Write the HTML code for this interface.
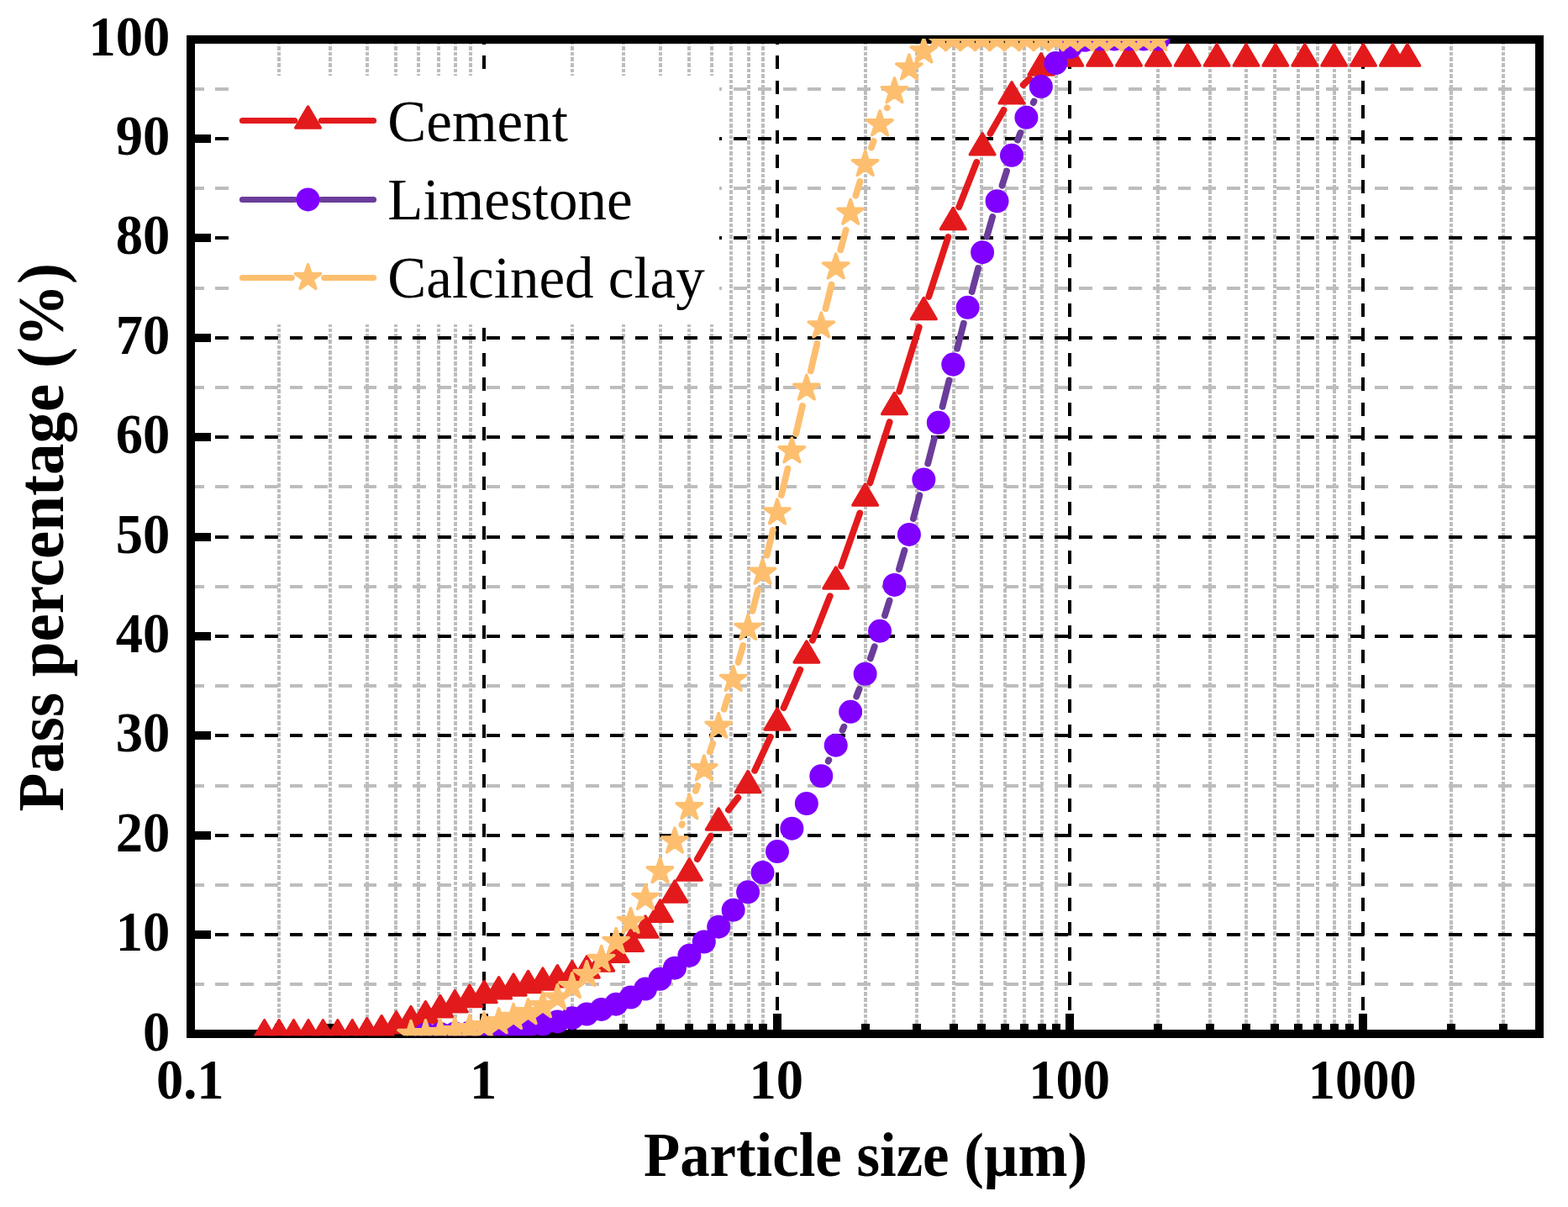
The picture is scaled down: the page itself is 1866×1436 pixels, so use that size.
<!DOCTYPE html>
<html lang="en"><head><meta charset="utf-8"><title>Particle size distribution</title>
<style>html,body{margin:0;padding:0;background:#fff}body{width:1866px;height:1436px;overflow:hidden}svg{display:block}text{font-family:"Liberation Serif","Times New Roman",serif;fill:#000}.b{font-weight:bold}.lg{font-size:69px}</style></head><body>
<svg width="1866" height="1436" viewBox="0 0 1866 1436" role="img" aria-label="Particle size distribution of cement, limestone and calcined clay">
<rect width="1866" height="1436" fill="#fff"/>
<defs><clipPath id="cp"><rect x="226" y="46" width="1607" height="1186.2"/></clipPath></defs>
<g shape-rendering="crispEdges">
<path d="M332 1231.1V46.6M393 1231.1V46.6M437 1231.1V46.6M471 1231.1V46.6M498 1231.1V46.6M522 1231.1V46.6M542 1231.1V46.6M560 1231.1V46.6M681 1231.1V46.6M742 1231.1V46.6M786 1231.1V46.6M820 1231.1V46.6M847 1231.1V46.6M870 1231.1V46.6M891 1231.1V46.6M908 1231.1V46.6M1030 1231.1V46.6M1091 1231.1V46.6M1135 1231.1V46.6M1168 1231.1V46.6M1196 1231.1V46.6M1219 1231.1V46.6M1240 1231.1V46.6M1257 1231.1V46.6M1378 1231.1V46.6M1440 1231.1V46.6M1483 1231.1V46.6M1517 1231.1V46.6M1545 1231.1V46.6M1568 1231.1V46.6M1588 1231.1V46.6M1606 1231.1V46.6M1727 1231.1V46.6M1789 1231.1V46.6" fill="none" stroke="#bdbdbd" stroke-width="4" stroke-dasharray="4.6 1.98"/>
<path d="M227.1 1171H1832.1M227.1 1053H1832.1M227.1 935H1832.1M227.1 816H1832.1M227.1 698H1832.1M227.1 579H1832.1M227.1 461H1832.1M227.1 343H1832.1M227.1 224H1832.1M227.1 106H1832.1" fill="none" stroke="#bdbdbd" stroke-width="4.0" stroke-dasharray="15.8 13.56"/>
<path d="M227.1 1112H1832.1M227.1 994H1832.1M227.1 875H1832.1M227.1 757H1832.1M227.1 639H1832.1M227.1 520H1832.1M227.1 402H1832.1M227.1 283H1832.1M227.1 165H1832.1" fill="none" stroke="#000" stroke-width="4.0" stroke-dasharray="15.8 13.56"/>
<path d="M576 1231.2V46.6M925 1231.2V46.6M1273 1231.2V46.6M1622 1231.2V46.6" fill="none" stroke="#000" stroke-width="4.0" stroke-dasharray="16 13.46"/>
<rect x="272.6" y="89.8" width="583.5" height="295.7" fill="#fff"/>
<rect x="227" y="47" width="1605" height="1183" fill="none" stroke="#000" stroke-width="10"/>
<path d="M227 1112H251.3M227 994H251.3M227 875H251.3M227 757H251.3M227 639H251.3M227 520H251.3M227 402H251.3M227 283H251.3M227 165H251.3M576 1230V1206M925 1230V1206M1273 1230V1206M1622 1230V1206M332 1230V1218M393 1230V1218M437 1230V1218M471 1230V1218M498 1230V1218M522 1230V1218M542 1230V1218M560 1230V1218M681 1230V1218M742 1230V1218M786 1230V1218M820 1230V1218M847 1230V1218M870 1230V1218M891 1230V1218M908 1230V1218M1030 1230V1218M1091 1230V1218M1135 1230V1218M1168 1230V1218M1196 1230V1218M1219 1230V1218M1240 1230V1218M1257 1230V1218M1378 1230V1218M1440 1230V1218M1483 1230V1218M1517 1230V1218M1545 1230V1218M1568 1230V1218M1588 1230V1218M1606 1230V1218M1727 1230V1218M1789 1230V1218" fill="none" stroke="#000" stroke-width="10"/>
</g>
<g clip-path="url(#cp)">
<path d="M829.89 1022.07L845.67 994.93M866.94 963.55L878.38 948.95M898.15 916.79L916.92 876.71M932.57 842.08L952.26 796.92M966.85 761.84L987.72 709.16M1001.04 673.58L1023.29 610.42M1035.41 574.41L1058.66 502.09M1070.08 465.85L1093.75 389.15M1105.24 352.94L1128.34 282.06M1141.18 246.32L1162.15 192.98M1178.54 158.81L1194.54 130.84M1217.63 101.13L1225.21 93.79" fill="none" stroke="#e31a1c" stroke-width="7.8" stroke-linecap="round"/><path d="M314.65 1213.78L329.5 1238.98H299.8ZM332.09 1213.78L346.94 1238.98H317.24ZM349.52 1213.78L364.37 1238.98H334.67ZM366.96 1213.78L381.81 1238.98H352.11ZM384.4 1213.78L399.25 1238.98H369.55ZM401.84 1213.78L416.69 1238.98H386.99ZM419.28 1213.78L434.13 1238.98H404.43ZM436.71 1211.68L451.56 1236.88H421.86ZM454.15 1208.68L469 1233.88H439.3ZM471.59 1203.73L486.44 1228.93H456.74ZM489.03 1197.58L503.88 1222.78H474.18ZM506.46 1191.68L521.31 1216.88H491.61ZM523.9 1184.68L538.75 1209.88H509.05ZM541.34 1178.68L556.19 1203.88H526.49ZM558.78 1172.28L573.63 1197.48H543.93ZM576.22 1167.38L591.07 1192.58H561.37ZM593.65 1162.68L608.5 1187.88H578.8ZM611.09 1158.98L625.94 1184.18H596.24ZM628.53 1155.38L643.38 1180.58H613.68ZM645.97 1151.98L660.82 1177.18H631.12ZM663.41 1148.68L678.26 1173.88H648.56ZM680.84 1143.78L695.69 1168.98H665.99ZM698.28 1137.78L713.13 1162.98H683.43ZM715.72 1129.98L730.57 1155.18H700.87ZM733.16 1119.08L748.01 1144.28H718.31ZM750.59 1106.08L765.44 1131.28H735.74ZM768.03 1089.88L782.88 1115.08H753.18ZM785.47 1071.23L800.32 1096.43H770.62ZM802.91 1047.98L817.76 1073.18H788.06ZM820.35 1021.88L835.2 1047.08H805.5ZM855.22 961.88L870.07 987.08H840.37ZM890.1 917.38L904.95 942.58H875.25ZM924.97 842.88L939.82 868.08H910.12ZM959.85 762.88L974.7 788.08H945ZM994.72 674.88L1009.57 700.08H979.87ZM1029.6 575.88L1044.45 601.08H1014.75ZM1064.48 467.38L1079.33 492.58H1049.63ZM1099.35 354.38L1114.2 379.58H1084.5ZM1134.23 247.38L1149.08 272.58H1119.38ZM1169.1 158.68L1183.95 183.88H1154.25ZM1203.98 97.73L1218.83 122.93H1189.13ZM1238.85 63.95L1253.7 89.15H1224ZM1273.73 52.84L1288.58 78.04H1258.88ZM1308.61 52.84L1323.46 78.04H1293.76ZM1343.48 52.84L1358.33 78.04H1328.63ZM1378.36 52.84L1393.21 78.04H1363.51ZM1413.23 52.84L1428.08 78.04H1398.38ZM1448.11 52.84L1462.96 78.04H1433.26ZM1482.98 52.84L1497.83 78.04H1468.13ZM1517.86 52.84L1532.71 78.04H1503.01ZM1552.74 52.84L1567.59 78.04H1537.89ZM1587.61 52.84L1602.46 78.04H1572.76ZM1622.49 52.84L1637.34 78.04H1607.64ZM1657.36 52.84L1672.21 78.04H1642.51ZM1674.8 52.84L1689.65 78.04H1659.95Z" fill="#e31a1c" stroke="#e31a1c" stroke-width="3.3" stroke-linejoin="round"/>
<path d="M985.68 905.63L986.33 904.28M1002.54 868.82L1004.35 864.69M1019.2 828.64L1022.56 819.95M1035.91 783.31L1040.73 769.24M1052.94 732.2L1058.57 714.5M1069.92 677.19L1076.47 654.67M1086.93 617.1L1094.34 589.27M1104.22 551.54L1111.92 521.66M1121.55 483.87L1129.46 452.5M1139.09 414.7L1146.81 384.7M1156.67 346.97L1164.1 319.03M1174.47 281.43L1181.17 258.02M1192.49 220.7L1198.03 203.44M1211.02 166.68L1214.38 157.99M1229.77 122.19L1230.5 120.64" fill="none" stroke="#6a3d9a" stroke-width="7.8" stroke-linecap="round"/><path d="M492.46 1230.4a14 14 0 1 0 28 0a14 14 0 1 0 -28 0ZM509.9 1229.9a14 14 0 1 0 28 0a14 14 0 1 0 -28 0ZM527.34 1229.43a14 14 0 1 0 28 0a14 14 0 1 0 -28 0ZM544.78 1228.48a14 14 0 1 0 28 0a14 14 0 1 0 -28 0ZM562.22 1227.06a14 14 0 1 0 28 0a14 14 0 1 0 -28 0ZM579.65 1225.17a14 14 0 1 0 28 0a14 14 0 1 0 -28 0ZM597.09 1223.16a14 14 0 1 0 28 0a14 14 0 1 0 -28 0ZM614.53 1220.91a14 14 0 1 0 28 0a14 14 0 1 0 -28 0ZM631.97 1218.66a14 14 0 1 0 28 0a14 14 0 1 0 -28 0ZM649.41 1215.47a14 14 0 1 0 28 0a14 14 0 1 0 -28 0ZM666.84 1211.21a14 14 0 1 0 28 0a14 14 0 1 0 -28 0ZM684.28 1206.48a14 14 0 1 0 28 0a14 14 0 1 0 -28 0ZM701.72 1200.92a14 14 0 1 0 28 0a14 14 0 1 0 -28 0ZM719.16 1194.66a14 14 0 1 0 28 0a14 14 0 1 0 -28 0ZM736.59 1186.61a14 14 0 1 0 28 0a14 14 0 1 0 -28 0ZM754.03 1176.56a14 14 0 1 0 28 0a14 14 0 1 0 -28 0ZM771.47 1164.85a14 14 0 1 0 28 0a14 14 0 1 0 -28 0ZM788.91 1151.72a14 14 0 1 0 28 0a14 14 0 1 0 -28 0ZM806.35 1136.82a14 14 0 1 0 28 0a14 14 0 1 0 -28 0ZM823.78 1120.5a14 14 0 1 0 28 0a14 14 0 1 0 -28 0ZM841.22 1102.64a14 14 0 1 0 28 0a14 14 0 1 0 -28 0ZM858.66 1082.65a14 14 0 1 0 28 0a14 14 0 1 0 -28 0ZM876.1 1061.37a14 14 0 1 0 28 0a14 14 0 1 0 -28 0ZM893.54 1038.07a14 14 0 1 0 28 0a14 14 0 1 0 -28 0ZM910.97 1013.11a14 14 0 1 0 28 0a14 14 0 1 0 -28 0ZM928.41 985.67a14 14 0 1 0 28 0a14 14 0 1 0 -28 0ZM945.85 955.99a14 14 0 1 0 28 0a14 14 0 1 0 -28 0ZM963.29 923.23a14 14 0 1 0 28 0a14 14 0 1 0 -28 0ZM980.72 886.68a14 14 0 1 0 28 0a14 14 0 1 0 -28 0ZM998.16 846.82a14 14 0 1 0 28 0a14 14 0 1 0 -28 0ZM1015.6 801.76a14 14 0 1 0 28 0a14 14 0 1 0 -28 0ZM1033.04 750.79a14 14 0 1 0 28 0a14 14 0 1 0 -28 0ZM1050.48 695.91a14 14 0 1 0 28 0a14 14 0 1 0 -28 0ZM1067.91 635.95a14 14 0 1 0 28 0a14 14 0 1 0 -28 0ZM1085.35 570.43a14 14 0 1 0 28 0a14 14 0 1 0 -28 0ZM1102.79 502.78a14 14 0 1 0 28 0a14 14 0 1 0 -28 0ZM1120.23 433.59a14 14 0 1 0 28 0a14 14 0 1 0 -28 0ZM1137.66 365.82a14 14 0 1 0 28 0a14 14 0 1 0 -28 0ZM1155.1 300.18a14 14 0 1 0 28 0a14 14 0 1 0 -28 0ZM1172.54 239.27a14 14 0 1 0 28 0a14 14 0 1 0 -28 0ZM1189.98 184.87a14 14 0 1 0 28 0a14 14 0 1 0 -28 0ZM1207.42 139.81a14 14 0 1 0 28 0a14 14 0 1 0 -28 0ZM1224.85 103.02a14 14 0 1 0 28 0a14 14 0 1 0 -28 0ZM1242.29 75.11a14 14 0 1 0 28 0a14 14 0 1 0 -28 0ZM1259.73 56.2a14 14 0 1 0 28 0a14 14 0 1 0 -28 0ZM1277.17 47.8a14 14 0 1 0 28 0a14 14 0 1 0 -28 0ZM1294.61 46.6a14 14 0 1 0 28 0a14 14 0 1 0 -28 0ZM1312.04 46.6a14 14 0 1 0 28 0a14 14 0 1 0 -28 0ZM1329.48 46.6a14 14 0 1 0 28 0a14 14 0 1 0 -28 0ZM1346.92 46.6a14 14 0 1 0 28 0a14 14 0 1 0 -28 0ZM1364.36 46.6a14 14 0 1 0 28 0a14 14 0 1 0 -28 0Z" fill="#7f00ff"/>
<path d="M811.42 981.37L811.83 980.43M827.93 940.79L830.2 934.81M844.77 894.57L848.24 884.53M861.6 843.87L866.28 828.93M878.54 787.92L884.22 768.08M895.55 726.81L902.08 701.99M912.61 660.51L919.9 630.69M929.94 589.08L937.45 557.62M947.28 515.96L954.98 482.94M964.75 441.27L972.38 408.83M982.46 367.23L989.55 338.77M1000.29 297.34L1006.6 273.86M1018.36 232.72L1023.4 216.08M1036.93 175.5L1039.7 167.9M1055.75 128.26L1055.76 128.24" fill="none" stroke="#fdbf6f" stroke-width="7.8" stroke-linecap="round"/><path d="M489.03 1214.6L492.57 1225.52L504.05 1225.52L494.77 1232.27L498.31 1243.18L489.03 1236.44L479.74 1243.18L483.29 1232.27L474 1225.52L485.48 1225.52ZM506.46 1213.8L510.01 1224.72L521.49 1224.72L512.2 1231.47L515.75 1242.38L506.46 1235.64L497.18 1242.38L500.72 1231.47L491.44 1224.72L502.92 1224.72ZM523.9 1212.9L527.45 1223.82L538.93 1223.82L529.64 1230.57L533.19 1241.48L523.9 1234.74L514.62 1241.48L518.16 1230.57L508.88 1223.82L520.35 1223.82ZM541.34 1210.8L544.89 1221.72L556.37 1221.72L547.08 1228.47L550.63 1239.38L541.34 1232.64L532.05 1239.38L535.6 1228.47L526.31 1221.72L537.79 1221.72ZM558.78 1208L562.33 1218.92L573.8 1218.92L564.52 1225.67L568.07 1236.58L558.78 1229.84L549.49 1236.58L553.04 1225.67L543.75 1218.92L555.23 1218.92ZM576.22 1204.8L579.76 1215.72L591.24 1215.72L581.96 1222.47L585.5 1233.38L576.22 1226.64L566.93 1233.38L570.48 1222.47L561.19 1215.72L572.67 1215.72ZM593.65 1199.85L597.2 1210.77L608.68 1210.77L599.39 1217.52L602.94 1228.43L593.65 1221.69L584.37 1228.43L587.91 1217.52L578.63 1210.77L590.11 1210.77ZM611.09 1194.7L614.64 1205.62L626.12 1205.62L616.83 1212.37L620.38 1223.28L611.09 1216.54L601.8 1223.28L605.35 1212.37L596.07 1205.62L607.54 1205.62ZM628.53 1188.9L632.08 1199.82L643.56 1199.82L634.27 1206.57L637.82 1217.48L628.53 1210.74L619.24 1217.48L622.79 1206.57L613.5 1199.82L624.98 1199.82ZM645.97 1181L649.52 1191.92L660.99 1191.92L651.71 1198.67L655.25 1209.58L645.97 1202.84L636.68 1209.58L640.23 1198.67L630.94 1191.92L642.42 1191.92ZM663.41 1171.5L666.95 1182.42L678.43 1182.42L669.15 1189.17L672.69 1200.08L663.41 1193.34L654.12 1200.08L657.67 1189.17L648.38 1182.42L659.86 1182.42ZM680.84 1157.8L684.39 1168.72L695.87 1168.72L686.58 1175.47L690.13 1186.38L680.84 1179.64L671.56 1186.38L675.1 1175.47L665.82 1168.72L677.3 1168.72ZM698.28 1143.75L701.83 1154.67L713.31 1154.67L704.02 1161.42L707.57 1172.33L698.28 1165.59L688.99 1172.33L692.54 1161.42L683.25 1154.67L694.73 1154.67ZM715.72 1125.65L719.27 1136.57L730.75 1136.57L721.46 1143.32L725.01 1154.23L715.72 1147.49L706.43 1154.23L709.98 1143.32L700.69 1136.57L712.17 1136.57ZM733.16 1104.6L736.7 1115.52L748.18 1115.52L738.9 1122.27L742.44 1133.18L733.16 1126.44L723.87 1133.18L727.42 1122.27L718.13 1115.52L729.61 1115.52ZM750.59 1080.7L754.14 1091.62L765.62 1091.62L756.33 1098.37L759.88 1109.28L750.59 1102.54L741.31 1109.28L744.85 1098.37L735.57 1091.62L747.05 1091.62ZM768.03 1052.6L771.58 1063.52L783.06 1063.52L773.77 1070.27L777.32 1081.18L768.03 1074.44L758.75 1081.18L762.29 1070.27L753.01 1063.52L764.48 1063.52ZM785.47 1021L789.02 1031.92L800.5 1031.92L791.21 1038.67L794.76 1049.58L785.47 1042.84L776.18 1049.58L779.73 1038.67L770.44 1031.92L781.92 1031.92ZM802.91 985.2L806.46 996.12L817.93 996.12L808.65 1002.87L812.2 1013.78L802.91 1007.04L793.62 1013.78L797.17 1002.87L787.88 996.12L799.36 996.12ZM820.35 945L823.89 955.92L835.37 955.92L826.09 962.67L829.63 973.58L820.35 966.84L811.06 973.58L814.61 962.67L805.32 955.92L816.8 955.92ZM837.78 899L841.33 909.92L852.81 909.92L843.52 916.67L847.07 927.58L837.78 920.84L828.5 927.58L832.04 916.67L822.76 909.92L834.24 909.92ZM855.22 848.5L858.77 859.42L870.25 859.42L860.96 866.17L864.51 877.08L855.22 870.34L845.93 877.08L849.48 866.17L840.19 859.42L851.67 859.42ZM872.66 792.7L876.21 803.62L887.69 803.62L878.4 810.37L881.95 821.28L872.66 814.54L863.37 821.28L866.92 810.37L857.63 803.62L869.11 803.62ZM890.1 731.7L893.64 742.62L905.12 742.62L895.84 749.37L899.38 760.28L890.1 753.54L880.81 760.28L884.36 749.37L875.07 742.62L886.55 742.62ZM907.54 665.5L911.08 676.42L922.56 676.42L913.28 683.17L916.82 694.08L907.54 687.34L898.25 694.08L901.79 683.17L892.51 676.42L903.99 676.42ZM924.97 594.1L928.52 605.02L940 605.02L930.71 611.77L934.26 622.68L924.97 615.94L915.69 622.68L919.23 611.77L909.95 605.02L921.43 605.02ZM942.41 521L945.96 531.92L957.44 531.92L948.15 538.67L951.7 549.58L942.41 542.84L933.12 549.58L936.67 538.67L927.38 531.92L938.86 531.92ZM959.85 446.3L963.4 457.22L974.88 457.22L965.59 463.97L969.14 474.88L959.85 468.14L950.56 474.88L954.11 463.97L944.82 457.22L956.3 457.22ZM977.29 372.2L980.83 383.12L992.31 383.12L983.03 389.87L986.57 400.78L977.29 394.04L968 400.78L971.55 389.87L962.26 383.12L973.74 383.12ZM994.72 302.2L998.27 313.12L1009.75 313.12L1000.46 319.87L1004.01 330.78L994.72 324.04L985.44 330.78L988.98 319.87L979.7 313.12L991.18 313.12ZM1012.16 237.4L1015.71 248.32L1027.19 248.32L1017.9 255.07L1021.45 265.98L1012.16 259.24L1002.88 265.98L1006.42 255.07L997.14 248.32L1008.61 248.32ZM1029.6 179.8L1033.15 190.72L1044.63 190.72L1035.34 197.47L1038.89 208.38L1029.6 201.64L1020.31 208.38L1023.86 197.47L1014.57 190.72L1026.05 190.72ZM1047.04 132L1050.59 142.92L1062.06 142.92L1052.78 149.67L1056.32 160.58L1047.04 153.84L1037.75 160.58L1041.3 149.67L1032.01 142.92L1043.49 142.92ZM1064.48 92.9L1068.02 103.82L1079.5 103.82L1070.22 110.57L1073.76 121.48L1064.48 114.74L1055.19 121.48L1058.74 110.57L1049.45 103.82L1060.93 103.82ZM1081.91 65.2L1085.46 76.12L1096.94 76.12L1087.65 82.87L1091.2 93.78L1081.91 87.04L1072.63 93.78L1076.17 82.87L1066.89 76.12L1078.37 76.12ZM1099.35 45.2L1102.9 56.12L1114.38 56.12L1105.09 62.87L1108.64 73.78L1099.35 67.04L1090.06 73.78L1093.61 62.87L1084.32 56.12L1095.8 56.12ZM1116.79 30.8L1120.34 41.72L1131.82 41.72L1122.53 48.47L1126.08 59.38L1116.79 52.64L1107.5 59.38L1111.05 48.47L1101.76 41.72L1113.24 41.72ZM1134.23 30.8L1137.77 41.72L1149.25 41.72L1139.97 48.47L1143.51 59.38L1134.23 52.64L1124.94 59.38L1128.49 48.47L1119.2 41.72L1130.68 41.72ZM1151.66 30.8L1155.21 41.72L1166.69 41.72L1157.41 48.47L1160.95 59.38L1151.66 52.64L1142.38 59.38L1145.92 48.47L1136.64 41.72L1148.12 41.72ZM1169.1 30.8L1172.65 41.72L1184.13 41.72L1174.84 48.47L1178.39 59.38L1169.1 52.64L1159.82 59.38L1163.36 48.47L1154.08 41.72L1165.56 41.72ZM1186.54 30.8L1190.09 41.72L1201.57 41.72L1192.28 48.47L1195.83 59.38L1186.54 52.64L1177.25 59.38L1180.8 48.47L1171.51 41.72L1182.99 41.72ZM1203.98 30.8L1207.53 41.72L1219.01 41.72L1209.72 48.47L1213.27 59.38L1203.98 52.64L1194.69 59.38L1198.24 48.47L1188.95 41.72L1200.43 41.72ZM1221.42 30.8L1224.96 41.72L1236.44 41.72L1227.16 48.47L1230.7 59.38L1221.42 52.64L1212.13 59.38L1215.68 48.47L1206.39 41.72L1217.87 41.72ZM1238.85 30.8L1242.4 41.72L1253.88 41.72L1244.59 48.47L1248.14 59.38L1238.85 52.64L1229.57 59.38L1233.11 48.47L1223.83 41.72L1235.31 41.72ZM1256.29 30.8L1259.84 41.72L1271.32 41.72L1262.03 48.47L1265.58 59.38L1256.29 52.64L1247 59.38L1250.55 48.47L1241.27 41.72L1252.74 41.72ZM1273.73 30.8L1277.28 41.72L1288.76 41.72L1279.47 48.47L1283.02 59.38L1273.73 52.64L1264.44 59.38L1267.99 48.47L1258.7 41.72L1270.18 41.72ZM1291.17 30.8L1294.72 41.72L1306.19 41.72L1296.91 48.47L1300.45 59.38L1291.17 52.64L1281.88 59.38L1285.43 48.47L1276.14 41.72L1287.62 41.72ZM1308.61 30.8L1312.15 41.72L1323.63 41.72L1314.35 48.47L1317.89 59.38L1308.61 52.64L1299.32 59.38L1302.87 48.47L1293.58 41.72L1305.06 41.72ZM1326.04 30.8L1329.59 41.72L1341.07 41.72L1331.78 48.47L1335.33 59.38L1326.04 52.64L1316.76 59.38L1320.3 48.47L1311.02 41.72L1322.5 41.72ZM1343.48 30.8L1347.03 41.72L1358.51 41.72L1349.22 48.47L1352.77 59.38L1343.48 52.64L1334.19 59.38L1337.74 48.47L1328.45 41.72L1339.93 41.72ZM1360.92 30.8L1364.47 41.72L1375.95 41.72L1366.66 48.47L1370.21 59.38L1360.92 52.64L1351.63 59.38L1355.18 48.47L1345.89 41.72L1357.37 41.72ZM1378.36 30.8L1381.9 41.72L1393.38 41.72L1384.1 48.47L1387.64 59.38L1378.36 52.64L1369.07 59.38L1372.62 48.47L1363.33 41.72L1374.81 41.72Z" fill="#fdbf6f" stroke="#fdbf6f" stroke-width="3.6" stroke-linejoin="round"/>
</g>
<path d="M288.4 143.5H350.7M382.3 143.5H444.6" fill="none" stroke="#e31a1c" stroke-width="7.0" stroke-linecap="round"/>
<path d="M366.5 126.88L381.35 152.08H351.65Z" fill="#e31a1c" stroke="#e31a1c" stroke-width="3.3" stroke-linejoin="round"/>
<text class="lg" x="461.3" y="168.1">Cement</text>
<path d="M288.4 237.4H350.7M382.3 237.4H444.6" fill="none" stroke="#6a3d9a" stroke-width="7.0" stroke-linecap="round"/>
<path d="M352.5 237.4a14 14 0 1 0 28 0a14 14 0 1 0 -28 0Z" fill="#7f00ff"/>
<text class="lg" x="461.3" y="260.6">Limestone</text>
<path d="M288.4 330.55H347.3M385.7 330.55H444.6" fill="none" stroke="#fdbf6f" stroke-width="7.0" stroke-linecap="round"/>
<path d="M366.5 314.75L370.05 325.67L381.53 325.67L372.24 332.42L375.79 343.33L366.5 336.59L357.21 343.33L360.76 332.42L351.47 325.67L362.95 325.67Z" fill="#fdbf6f" stroke="#fdbf6f" stroke-width="3.6" stroke-linejoin="round"/>
<text class="lg" x="461.3" y="354.3">Calcined clay</text>
<text class="b" font-size="64.6" text-anchor="end" transform="translate(202.3 1249.5) scale(1 1.045)">0</text>
<text class="b" font-size="64.6" text-anchor="end" transform="translate(202.3 1131.1) scale(1 1.045)">10</text>
<text class="b" font-size="64.6" text-anchor="end" transform="translate(202.3 1012.7) scale(1 1.045)">20</text>
<text class="b" font-size="64.6" text-anchor="end" transform="translate(202.3 894.3) scale(1 1.045)">30</text>
<text class="b" font-size="64.6" text-anchor="end" transform="translate(202.3 775.9) scale(1 1.045)">40</text>
<text class="b" font-size="64.6" text-anchor="end" transform="translate(202.3 657.5) scale(1 1.045)">50</text>
<text class="b" font-size="64.6" text-anchor="end" transform="translate(202.3 539.1) scale(1 1.045)">60</text>
<text class="b" font-size="64.6" text-anchor="end" transform="translate(202.3 420.7) scale(1 1.045)">70</text>
<text class="b" font-size="64.6" text-anchor="end" transform="translate(202.3 302.3) scale(1 1.045)">80</text>
<text class="b" font-size="64.6" text-anchor="end" transform="translate(202.3 183.9) scale(1 1.045)">90</text>
<text class="b" font-size="64.6" text-anchor="end" transform="translate(202.3 65.5) scale(1 1.045)">100</text>
<text class="b" font-size="64.6" text-anchor="middle" transform="translate(226.3 1306.9) scale(1 1.045)">0.1</text>
<text class="b" font-size="64.6" text-anchor="middle" transform="translate(575.06 1306.9) scale(1 1.045)">1</text>
<text class="b" font-size="64.6" text-anchor="middle" transform="translate(923.81 1306.9) scale(1 1.045)">10</text>
<text class="b" font-size="64.6" text-anchor="middle" transform="translate(1272.57 1306.9) scale(1 1.045)">100</text>
<text class="b" font-size="64.6" text-anchor="middle" transform="translate(1621.33 1306.9) scale(1 1.045)">1000</text>
<text class="b" font-size="70.8" text-anchor="middle" transform="translate(1030 1398.8) scale(1 1.034)">Particle size (µm)</text>
<text class="b" font-size="75" text-anchor="middle" transform="translate(74.7 639.3) rotate(-90) scale(1 1.030)">Pass percentage (%)</text>
</svg></body></html>
